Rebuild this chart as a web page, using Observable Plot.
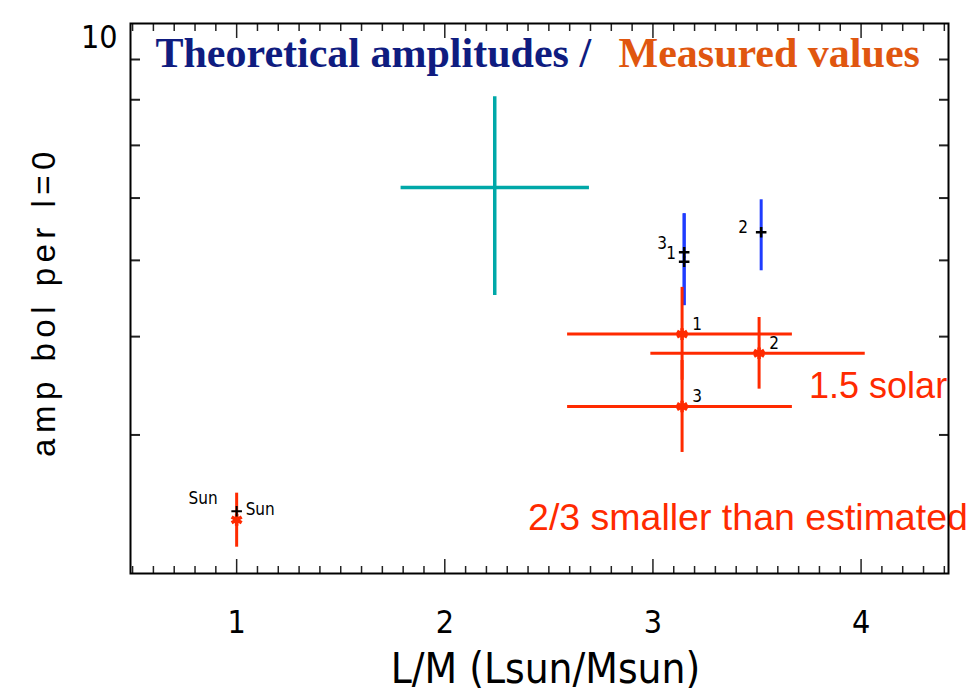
<!DOCTYPE html>
<html><head><meta charset="utf-8">
<script src="https://cdn.jsdelivr.net/npm/d3@7"></script>
<script src="https://cdn.jsdelivr.net/npm/@observablehq/plot@0.6"></script>
<style>
html,body{margin:0;padding:0;background:#fff;}
#chart{width:976px;height:697px;}
</style></head><body><div id="chart"></div>
<script>
// ---------- data ----------
const xDomain = [0.49, 4.42];
const yDomain = [2, 10];
const xMajorTicks = [1, 2, 3, 4];
const xMajorLabels = ["1", "2", "3", "4"];
const xMinorTicks = [0.5,0.6,0.7,0.8,0.9,1.1,1.2,1.3,1.4,1.5,1.6,1.7,1.8,1.9,2.1,2.2,2.3,2.4,2.5,2.6,2.7,2.8,2.9,3.1,3.2,3.3,3.4,3.5,3.6,3.7,3.8,3.9,4.1,4.2,4.3,4.4];
const yMinorTicks = [3, 4, 5, 6, 7, 8, 9];
const yLabelTicks = [10];
const yLabelText = ["10"];

const xTitle = "L/M (Lsun/Msun)";
const yTitle = "amp bol per l=0";
const titleParts = ["Theoretical amplitudes /", "Measured values"];

// measured values (red)
const measStars = ["1", "2", "3"];
const measLM    = [3.14, 3.51, 3.14];
const measLMlo  = [2.59, 2.99, 2.59];
const measLMhi  = [3.67, 4.02, 3.67];
const measAmp   = [4.03, 3.81, 3.26];
const measAmpLo = [3.52, 3.43, 2.85];
const measAmpHi = [4.62, 4.23, 3.73];

// theoretical amplitudes (blue bars, black markers)
const theoStars = ["3", "1", "2"];
const theoLM    = [3.15, 3.15, 3.52];
const theoAmp   = [5.12, 4.98, 5.43];
const theoAmpLo = [4.38, 4.38, 4.85];
const theoAmpHi = [5.73, 5.73, 5.97];

// cyan cross
const cyanLM = [2.24], cyanLMlo = [1.79], cyanLMhi = [2.695];
const cyanAmp = [6.19], cyanAmpLo = [4.51], cyanAmpHi = [8.07];

// Sun
const sunName = ["Sun"];
const sunLM = [1];
const sunTheoAmp = [2.40];
const sunMeasAmp = [2.34], sunMeasLo = [2.16], sunMeasHi = [2.53];

// annotations
const notes = ["1.5 solar", "2/3 smaller than estimated"];
const notesLM = [3.75, 2.40];
const notesAmp = [3.46, 2.35];

// ---------- tables ----------
const meas = measStars.map((s, i) => ({star: s, lm: measLM[i], lo: measLMlo[i], hi: measLMhi[i], amp: measAmp[i], alo: measAmpLo[i], ahi: measAmpHi[i]}));
const theo = theoStars.map((s, i) => ({star: s, lm: theoLM[i], amp: theoAmp[i], alo: theoAmpLo[i], ahi: theoAmpHi[i]}));
const cyan = cyanLM.map((v, i) => ({lm: v, lo: cyanLMlo[i], hi: cyanLMhi[i], amp: cyanAmp[i], alo: cyanAmpLo[i], ahi: cyanAmpHi[i]}));
const sun = sunName.map((n, i) => ({name: n, lm: sunLM[i], theo: sunTheoAmp[i], amp: sunMeasAmp[i], alo: sunMeasLo[i], ahi: sunMeasHi[i]}));
const notesT = notes.map((t, i) => ({text: t, lm: notesLM[i], amp: notesAmp[i], size: i === 0 ? 36 : 37.5}));

const RED = "#ff2a00", BLUE = "#1f3cff", CYAN = "#00a8a8", NAVY = "#0f1c80", ORANGE = "#e0560f";
const AXF = '"Liberation Sans Narrow","DejaVu Sans Condensed","Liberation Sans",sans-serif';
const SANS = '"Liberation Sans",Arial,sans-serif';
const SERIF = '"Liberation Serif","DejaVu Serif",serif';
const TICK = "#222";

const chart = Plot.plot({
  width: 976, height: 697,
  marginLeft: 130, marginRight: 28, marginTop: 23, marginBottom: 124,
  x: {domain: xDomain, label: null},
  y: {type: "log", domain: yDomain, label: null},
  style: {background: "white", fontFamily: AXF, color: "black"},
  marks: [
    // ticks (inward)
    Plot.axisX(xMinorTicks, {anchor: "bottom", tickSize: -7, tickFormat: () => "", stroke: TICK, strokeWidth: 1.5, label: null}),
    Plot.axisX(xMajorTicks, {anchor: "bottom", tickSize: -14, tickFormat: () => "", stroke: TICK, strokeWidth: 1.5, label: null}),
    Plot.axisX(xMinorTicks, {anchor: "top", tickSize: -7, tickFormat: () => "", stroke: TICK, strokeWidth: 1.5, label: null}),
    Plot.axisX(xMajorTicks, {anchor: "top", tickSize: -14, tickFormat: () => "", stroke: TICK, strokeWidth: 1.5, label: null}),
    Plot.axisY(yMinorTicks, {anchor: "left", tickSize: -10, tickFormat: () => "", stroke: TICK, strokeWidth: 2, label: null}),
    Plot.axisY(yMinorTicks, {anchor: "right", tickSize: -10, tickFormat: () => "", stroke: TICK, strokeWidth: 2, label: null}),
    // tick labels
    Plot.axisX(xMajorTicks, {anchor: "bottom", tickSize: 0, tickPadding: 37, fontSize: 32, tickFormat: d => xMajorLabels[xMajorTicks.indexOf(d)], label: null}),
    Plot.axisY(yLabelTicks, {anchor: "left", tickSize: 0, tickPadding: 13, dy: 14, fontSize: 32, tickFormat: d => yLabelText[yLabelTicks.indexOf(d)], label: null}),
    // axis titles
    Plot.text([xTitle], {text: d => d, frameAnchor: "bottom", lineAnchor: "middle", textAnchor: "middle", dy: 96, dx: 6, fontSize: 42, fill: "black"}),
    Plot.text([yTitle], {text: d => d, frameAnchor: "left", lineAnchor: "middle", textAnchor: "middle", dx: -86, dy: 3, rotate: -90, fontSize: 33, fontFamily: SANS, fill: "black"}),
    // cyan cross
    Plot.ruleY(cyan, {x1: "lo", x2: "hi", y: "amp", stroke: CYAN, strokeWidth: 3.5}),
    Plot.ruleX(cyan, {x: "lm", y1: "alo", y2: "ahi", stroke: CYAN, strokeWidth: 3.5}),
    // theoretical
    Plot.ruleX(theo, {x: "lm", y1: "alo", y2: "ahi", stroke: BLUE, strokeWidth: 3}),
    Plot.dot(theo, {x: "lm", y: "amp", symbol: "plus", r: 3.5, stroke: "black", strokeWidth: 2.5}),
    Plot.text(theo, {filter: d => d.star === "3", x: "lm", y: "amp", text: "star", dx: -22, dy: -9, fontSize: 17, fill: "black"}),
    Plot.text(theo, {filter: d => d.star === "1", x: "lm", y: "amp", text: "star", dx: -13, dy: -8, fontSize: 17, fill: "black"}),
    Plot.text(theo, {filter: d => d.star === "2", x: "lm", y: "amp", text: "star", dx: -18, dy: -5, fontSize: 17, fill: "black"}),
    // measured
    Plot.ruleY(meas, {x1: "lo", x2: "hi", y: "amp", stroke: RED, strokeWidth: 3}),
    Plot.ruleX(meas, {x: "lm", y1: "alo", y2: "ahi", stroke: RED, strokeWidth: 3}),
    Plot.dot(meas, {x: "lm", y: "amp", symbol: "asterisk", r: 5.5, stroke: RED, strokeWidth: 3.5}),
    Plot.text(meas, {x: "lm", y: "amp", text: "star", dx: 15, dy: -10, fontSize: 17, fill: "black"}),
    // Sun
    Plot.ruleX(sun, {x: "lm", y1: "alo", y2: "ahi", stroke: RED, strokeWidth: 3}),
    Plot.dot(sun, {x: "lm", y: "amp", symbol: "asterisk", r: 5.5, stroke: RED, strokeWidth: 3.5}),
    Plot.dot(sun, {x: "lm", y: "theo", symbol: "plus", r: 3.5, stroke: "black", strokeWidth: 2}),
    Plot.text(sun, {x: "lm", y: "theo", text: "name", dx: 9, dy: -2, textAnchor: "start", fontSize: 17, fill: "black"}),
    Plot.text(sun, {x: "lm", y: "amp", text: "name", dx: -19, dy: -21, textAnchor: "end", fontSize: 17, fill: "black"}),
    // annotations
    Plot.text(notesT, {x: "lm", y: "amp", text: "text", textAnchor: "start", fontSize: "size", fontFamily: SANS, fill: RED}),
    // title overlay
    Plot.text([titleParts[0]], {text: d => d, frameAnchor: "top-left", lineAnchor: "middle", dx: 25, dy: 30, textAnchor: "start", fontSize: 42, fontWeight: "bold", fontFamily: SERIF, fill: NAVY}),
    Plot.text([titleParts[1]], {text: d => d, frameAnchor: "top-left", lineAnchor: "middle", dx: 488, dy: 30, textAnchor: "start", fontSize: 42, fontWeight: "bold", fontFamily: SERIF, fill: ORANGE}),
    // frame
    Plot.frame({stroke: "black", strokeWidth: 2})
  ]
});
document.getElementById("chart").appendChild(chart);
d3.select(chart).selectAll("text").each(function() {
  const t = this.textContent;
  if (t === yTitle) this.setAttribute("letter-spacing", "5.5px");
});
</script></body></html>
